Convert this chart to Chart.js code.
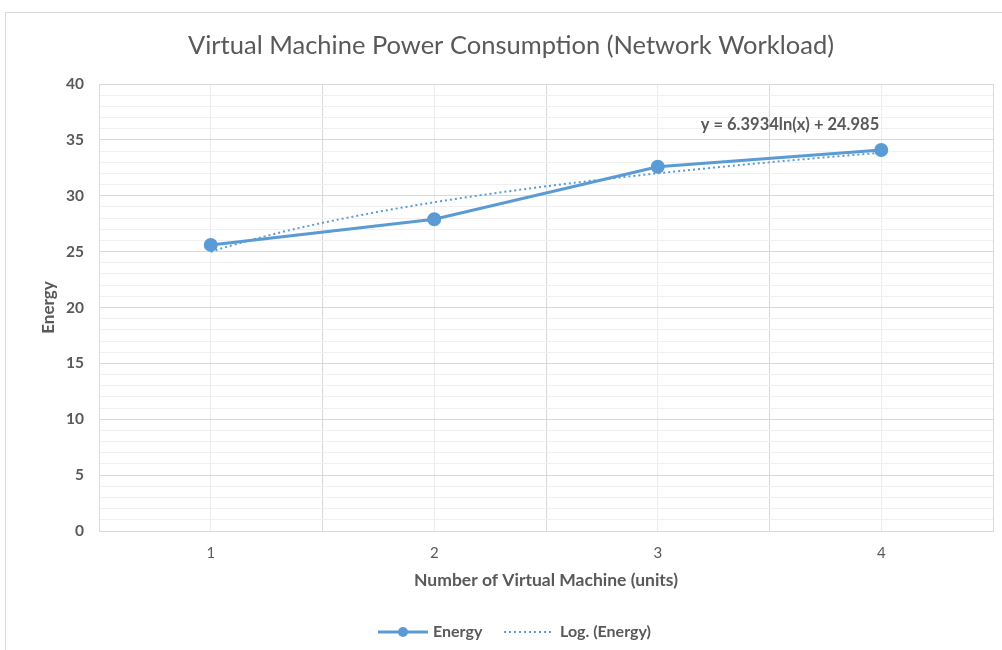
<!DOCTYPE html>
<html>
<head>
<meta charset="utf-8">
<script src="https://cdn.jsdelivr.net/npm/chart.js@4.4.1/dist/chart.umd.min.js"></script>
<style>
  html, body { margin: 0; padding: 0; background: #ffffff; }
  #wrap { position: relative; width: 1002px; height: 650px; overflow: hidden; }
  #frame { position: absolute; left: 5px; top: 12px; width: 1100px; height: 700px; border: 1px solid #d9d9d9; box-sizing: border-box; }
  canvas { position: absolute; left: 0; top: 0; }
</style>
</head>
<body>
<div id="wrap">
  <div id="frame"></div>
  <canvas id="c" width="1002" height="650"></canvas>
</div>
<script>
// ---- data ----
const categories = [1, 2, 3, 4];
const energyValues = [25.6, 27.9, 32.6, 34.1];
const yTickLabels = [0, 5, 10, 15, 20, 25, 30, 35, 40];
// logarithmic trendline as printed on the chart: y = a ln(x) + b
const trendSlope = 6.3934;
const trendIntercept = 24.985;
const trendLabel = 'y = 6.3934ln(x) + 24.985';

const chartTitle = 'Virtual Machine Power Consumption (Network Workload)';
const xTitle = 'Number of Virtual Machine (units)';
const yTitle = 'Energy';
const seriesName = 'Energy';
const trendName = 'Log. (Energy)';

const BLUE = '#5B9BD5';
const TEXT = '#595959';
const FONT = 'Lato, "Open Sans", sans-serif';

const energyPoints = categories.map((c, i) => ({ x: c, y: energyValues[i] }));
const trendPoints = [];
for (let k = 0; k <= 60; k++) {
  const x = categories[0] + (categories[categories.length - 1] - categories[0]) * k / 60;
  trendPoints.push({ x: x, y: trendSlope * Math.log(x) + trendIntercept });
}

const overlay = {
  id: 'overlay',
  afterDraw(chart) {
    const ctx = chart.ctx;
    ctx.save();
    // chart title (centred on the chart frame)
    ctx.fillStyle = TEXT;
    ctx.font = '25.5px ' + FONT;
    ctx.textAlign = 'center';
    ctx.textBaseline = 'middle';
    ctx.fillText(chartTitle, 511, 46);
    // trendline equation
    ctx.font = 'bold 16.5px ' + FONT;
    ctx.fillText(trendLabel, 790, 125);
    // legend
    const ly = 632;
    ctx.strokeStyle = BLUE;
    ctx.lineWidth = 3;
    ctx.setLineDash([]);
    ctx.beginPath(); ctx.moveTo(378, ly); ctx.lineTo(428, ly); ctx.stroke();
    ctx.fillStyle = BLUE;
    ctx.beginPath(); ctx.arc(403, ly, 5, 0, Math.PI * 2); ctx.fill();
    ctx.fillStyle = TEXT;
    ctx.font = 'bold 16px ' + FONT;
    ctx.textAlign = 'left';
    ctx.fillText(seriesName, 433, ly);
    ctx.strokeStyle = BLUE;
    ctx.lineWidth = 2;
    ctx.setLineDash([2, 3]);
    ctx.beginPath(); ctx.moveTo(504, ly); ctx.lineTo(552, ly); ctx.stroke();
    ctx.setLineDash([]);
    ctx.fillText(trendName, 560, ly);
    ctx.restore();
  }
};

new Chart(document.getElementById('c'), {
  type: 'line',
  data: {
    datasets: [
      {
        label: trendName,
        data: trendPoints,
        borderColor: BLUE,
        borderWidth: 2,
        borderDash: [2, 3],
        pointRadius: 0,
        fill: false,
        order: 2
      },
      {
        label: seriesName,
        data: energyPoints,
        borderColor: BLUE,
        backgroundColor: BLUE,
        borderWidth: 3,
        pointRadius: 5.5,
        pointBackgroundColor: BLUE,
        pointBorderColor: BLUE,
        fill: false,
        order: 1
      }
    ]
  },
  options: {
    responsive: false,
    animation: false,
    devicePixelRatio: 1,
    layout: { padding: { left: 0, right: 9, top: 84, bottom: 59 } },
    plugins: {
      legend: { display: false },
      tooltip: { enabled: false },
      title: { display: false }
    },
    scales: {
      x: {
        type: 'linear',
        min: 0.5,
        max: 4.5,
        afterBuildTicks(scale) {
          const t = [];
          for (let v = 0.5; v <= 4.5 + 1e-9; v += 0.5) t.push({ value: v });
          scale.ticks = t;
        },
        afterFit(scale) { scale.height = 60; },
        ticks: {
          autoSkip: false,
          maxRotation: 0,
          padding: 0,
          color: TEXT,
          font: { family: FONT, size: 15 },
          callback: (v) => (categories.includes(v) ? String(v) : '')
        },
        grid: {
          drawTicks: true,
          tickLength: 13,
          tickColor: 'rgba(0,0,0,0)',
          color: (c) => (c.tick && Number.isInteger(c.tick.value) ? '#ececec' : '#d9d9d9'),
          lineWidth: 1
        },
        border: { color: '#d9d9d9' },
        title: {
          display: true,
          text: xTitle,
          color: TEXT,
          font: { family: FONT, size: 17.5, weight: 'bold', lineHeight: 1.2 },
          padding: { top: 0, bottom: 0.5 }
        }
      },
      y: {
        min: 0,
        max: 40,
        afterBuildTicks(scale) {
          const t = [];
          for (let v = 0; v <= 40; v++) t.push({ value: v });
          scale.ticks = t;
        },
        afterFit(scale) { scale.width = 99; },
        ticks: {
          autoSkip: false,
          padding: 15,
          color: TEXT,
          font: { family: FONT, size: 15.5, weight: 'bold' },
          callback: (v) => (yTickLabels.includes(v) ? String(v) : '')
        },
        grid: {
          drawTicks: false,
          color: (c) => (c.tick && c.tick.value % 5 === 0 ? '#d9d9d9' : '#f0f0f0'),
          lineWidth: 1
        },
        border: { color: '#d9d9d9' },
        title: {
          display: true,
          text: yTitle,
          color: TEXT,
          font: { family: FONT, size: 17, weight: 'bold', lineHeight: 1.2 },
          padding: { top: 38.8, bottom: 0 }
        }
      }
    }
  },
  plugins: [overlay]
});
</script>
</body>
</html>
